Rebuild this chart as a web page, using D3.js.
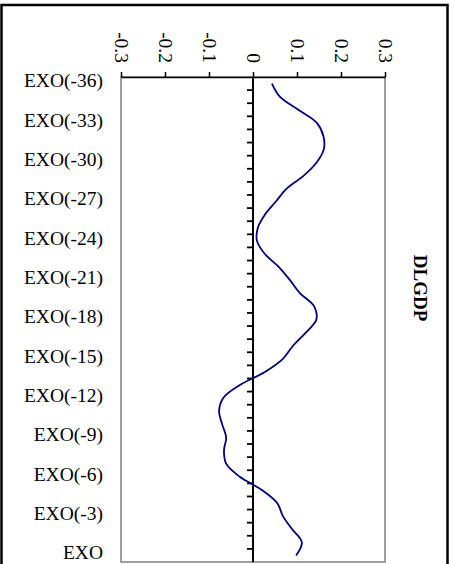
<!DOCTYPE html>
<html>
<head>
<meta charset="utf-8">
<script src="https://cdn.jsdelivr.net/npm/d3@7/dist/d3.min.js"></script>
<style>
  html, body { margin: 0; padding: 0; background: #fff; }
  svg { display: block; }
  text { font-family: "Liberation Serif", "Times New Roman", serif; }
</style>
</head>
<body>
<svg id="chart" width="455" height="564"></svg>
<script>
// ---- data ----
const categories = [
  "EXO(-36)","EXO(-35)","EXO(-34)","EXO(-33)","EXO(-32)","EXO(-31)",
  "EXO(-30)","EXO(-29)","EXO(-28)","EXO(-27)","EXO(-26)","EXO(-25)",
  "EXO(-24)","EXO(-23)","EXO(-22)","EXO(-21)","EXO(-20)","EXO(-19)",
  "EXO(-18)","EXO(-17)","EXO(-16)","EXO(-15)","EXO(-14)","EXO(-13)",
  "EXO(-12)","EXO(-11)","EXO(-10)","EXO(-9)","EXO(-8)","EXO(-7)",
  "EXO(-6)","EXO(-5)","EXO(-4)","EXO(-3)","EXO(-2)","EXO(-1)","EXO"
];
const values = [
  0.043, 0.061, 0.103, 0.145, 0.160, 0.161,
  0.145, 0.116, 0.077, 0.052, 0.027, 0.011,
  0.009, 0.027, 0.059, 0.084, 0.107, 0.139,
  0.144, 0.120, 0.091, 0.068, 0.027, -0.030,
  -0.068, -0.077, -0.070, -0.061, -0.066, -0.061,
  -0.030, 0.020, 0.055, 0.068, 0.089, 0.111, 0.098
];
const xTicks = [-0.3, -0.2, -0.1, 0, 0.1, 0.2, 0.3];
const seriesName = "DLGDP";

// ---- layout ----
const svg = d3.select("#chart");
const pLeft = 121, pRight = 385, pTop = 77, pBottom = 562;

const x = d3.scaleLinear().domain([-0.3, 0.3]).range([pLeft, pRight]);
const y = d3.scaleBand().domain(categories).range([pTop, pBottom]).padding(0);

// outer border
svg.append("rect")
  .attr("x", 1.5).attr("y", 5).attr("width", 446).attr("height", 580)
  .attr("fill", "none").attr("stroke", "#000").attr("stroke-width", 2.5);

// plot area border (grey)
svg.append("rect")
  .attr("x", pLeft).attr("y", pTop).attr("width", pRight - pLeft).attr("height", pBottom - pTop)
  .attr("fill", "none").attr("stroke", "#808080").attr("stroke-width", 1.5);

// top value axis
const topAxis = svg.append("g")
  .attr("transform", `translate(0,${pTop})`)
  .call(d3.axisTop(x).tickValues(xTicks).tickSize(5).tickSizeOuter(0)
    .tickFormat(d => d === 0 ? "0" : String(d)));
topAxis.select(".domain").attr("stroke", "#000").attr("stroke-width", 1.5);
topAxis.selectAll(".tick line").attr("stroke", "#000").attr("stroke-width", 1.5);
topAxis.selectAll(".tick text")
  .attr("transform", "rotate(90)")
  .attr("x", -14).attr("y", 0).attr("dy", "0.35em")
  .attr("text-anchor", "end")
  .attr("font-family", "Liberation Serif, Times New Roman, serif")
  .attr("font-size", 19.5).attr("fill", "#000");

// category labels (every third)
const catAxis = svg.append("g")
  .attr("transform", `translate(${pLeft},0)`)
  .call(d3.axisLeft(y).tickValues(categories.filter((c, i) => i % 3 === 0)).tickSize(0).tickPadding(18));
catAxis.select(".domain").remove();
catAxis.selectAll(".tick text")
  .attr("dy", "0.2em")
  .attr("font-family", "Liberation Serif, Times New Roman, serif")
  .attr("font-size", 19.5).attr("fill", "#000");

// zero line with category boundary ticks
svg.append("line")
  .attr("x1", x(0)).attr("x2", x(0)).attr("y1", pTop).attr("y2", pBottom)
  .attr("stroke", "#000").attr("stroke-width", 2);
svg.append("g").selectAll("line")
  .data(categories.slice(1))
  .join("line")
  .attr("x1", x(0) - 6).attr("x2", x(0))
  .attr("y1", d => y(d)).attr("y2", d => y(d))
  .attr("stroke", "#000").attr("stroke-width", 1.8);

// series line
const line = d3.line()
  .x(d => x(d))
  .y((d, i) => y(categories[i]) + y.bandwidth() / 2)
  .curve(d3.curveCatmullRom.alpha(0.5));
svg.append("path")
  .datum(values)
  .attr("d", line)
  .attr("fill", "none")
  .attr("stroke", "#000080")
  .attr("stroke-width", 1.8);

// series title
svg.append("text")
  .attr("transform", `translate(421,288) rotate(90)`)
  .attr("text-anchor", "middle").attr("dy", "0.35em")
  .attr("font-family", "Liberation Serif, Times New Roman, serif")
  .attr("font-weight", "bold").attr("font-size", 19)
  .text(seriesName);
</script>
</body>
</html>
